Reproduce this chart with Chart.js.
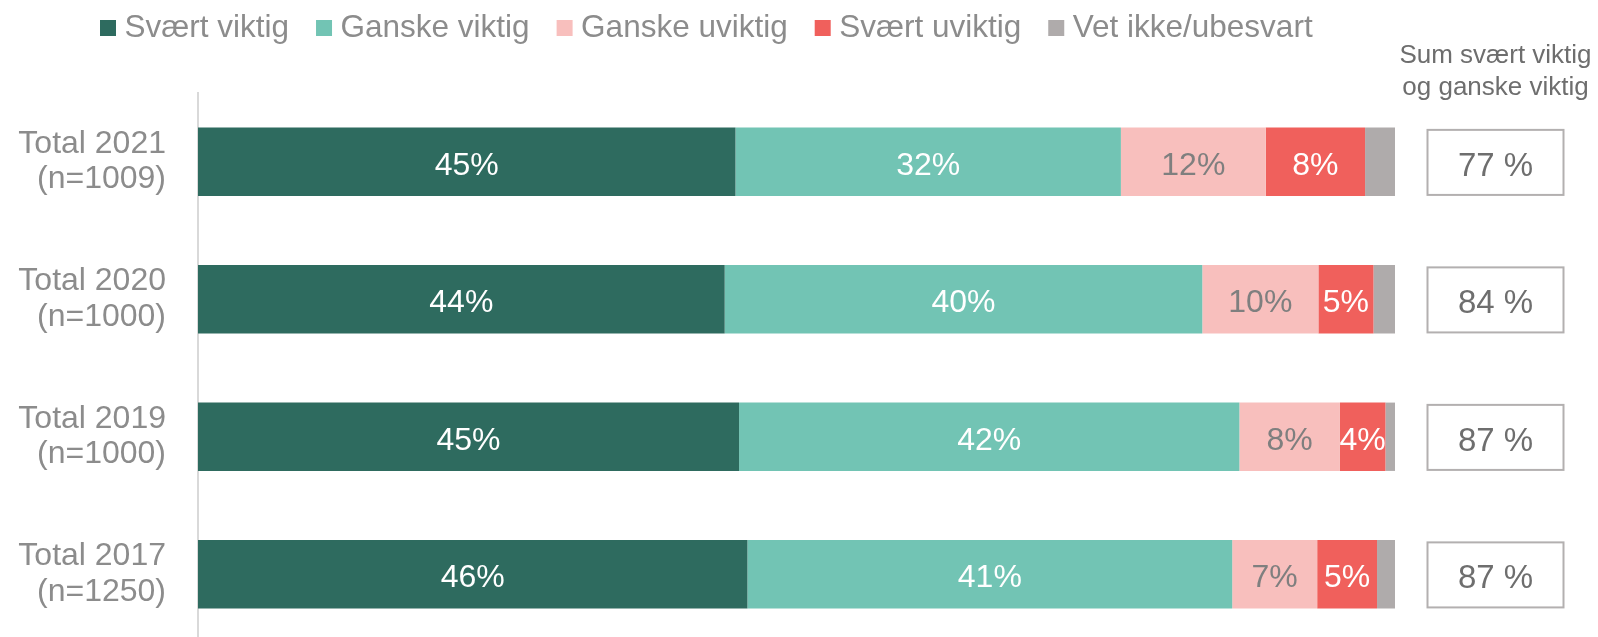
<!DOCTYPE html>
<html>
<head>
<meta charset="utf-8">
<script src="https://cdn.jsdelivr.net/npm/chart.js@4/dist/chart.umd.min.js"></script>
<style>
html,body{margin:0;padding:0;background:#fff;overflow:hidden;}
#wrap{width:1598px;height:643px;}
</style>
</head>
<body>
<div id="wrap"><canvas id="c" width="1598" height="643"></canvas></div>
<script>
// ---- data ----
const categories = [
  ['Total 2021', '(n=1009)'],
  ['Total 2020', '(n=1000)'],
  ['Total 2019', '(n=1000)'],
  ['Total 2017', '(n=1250)']
];
const seriesNames = ['Svært viktig', 'Ganske viktig', 'Ganske uviktig', 'Svært uviktig', 'Vet ikke/ubesvart'];
const svaertViktig  = [44.9, 44.0, 45.2, 45.9];
const ganskeViktig  = [32.2, 39.9, 41.8, 40.5];
const ganskeUviktig = [12.1, 9.7, 8.4, 7.1];
const svaertUviktig = [8.3, 4.6, 3.8, 5.0];
const vetIkke       = [2.5, 1.8, 0.8, 1.5];
const sumViktig     = [77, 84, 87, 87];
const sumHeader     = ['Sum svært viktig', 'og ganske viktig'];

// ---- styles ----
const FONT = "'Liberation Sans', Arial, sans-serif";
const colors = ['#2e6b5f', '#72c4b4', '#f8bfbd', '#f0605c', '#afabab'];
const labelColors = ['#ffffff', '#ffffff', '#7f7f7f', '#ffffff', null];
const seriesValues = [svaertViktig, ganskeViktig, ganskeUviktig, svaertUviktig, vetIkke];

const barLabels = {
  id: 'barLabels',
  afterDatasetsDraw(chart) {
    const ctx = chart.ctx;
    ctx.save();
    ctx.font = '32px ' + FONT;
    ctx.textAlign = 'center';
    ctx.textBaseline = 'alphabetic';
    chart.data.datasets.forEach((ds, i) => {
      if (!labelColors[i]) return;
      const meta = chart.getDatasetMeta(i);
      ctx.fillStyle = labelColors[i];
      meta.data.forEach((bar, j) => {
        const v = ds.data[j];
        const x = (bar.x + bar.base) / 2;
        ctx.fillText(Math.round(v) + '%', x, bar.y + 13);
      });
    });
    ctx.restore();
  }
};

const sumBoxes = {
  id: 'sumBoxes',
  afterDraw(chart) {
    const ctx = chart.ctx;
    const area = chart.chartArea;
    const meta = chart.getDatasetMeta(0);
    const boxX = area.right + 32.5;
    const boxW = 136;
    const cx = boxX + boxW / 2;
    ctx.save();
    // header
    ctx.font = '26px ' + FONT;
    ctx.fillStyle = '#6e6e6e';
    ctx.textAlign = 'center';
    ctx.textBaseline = 'alphabetic';
    ctx.fillText(sumHeader[0], cx, 63);
    ctx.fillText(sumHeader[1], cx, 95);
    // boxes
    meta.data.forEach((bar, j) => {
      const top = bar.y - bar.height / 2;
      ctx.strokeStyle = '#b3b0b0';
      ctx.lineWidth = 2;
      ctx.strokeRect(boxX, top + 2.3, boxW, bar.height - 3.3);
      ctx.font = '33px ' + FONT;
      ctx.fillStyle = '#6e6e6e';
      ctx.fillText(sumViktig[j] + ' %', cx, bar.y + 14);
    });
    ctx.restore();
  }
};

const customLegend = {
  id: 'customLegend',
  afterDraw(chart) {
    const ctx = chart.ctx;
    ctx.save();
    ctx.font = '31.5px ' + FONT;
    ctx.textBaseline = 'alphabetic';
    ctx.textAlign = 'left';
    let x = 100;
    chart.data.datasets.forEach((ds) => {
      ctx.fillStyle = ds.backgroundColor;
      ctx.fillRect(x, 20, 16, 16);
      ctx.fillStyle = '#8c8c8c';
      const tx = x + 24.5;
      ctx.fillText(ds.label, tx, 37);
      x = tx + ctx.measureText(ds.label).width + 27;
    });
    ctx.restore();
  }
};

new Chart(document.getElementById('c'), {
  type: 'bar',
  data: {
    labels: categories,
    datasets: seriesNames.map((name, i) => ({
      label: name,
      data: seriesValues[i],
      backgroundColor: colors[i],
      borderWidth: 0,
      categoryPercentage: 1,
      barPercentage: 0.497
    }))
  },
  options: {
    indexAxis: 'y',
    responsive: false,
    animation: false,
    layout: { padding: { top: 93, right: 203, bottom: 0, left: 0 } },
    plugins: {
      legend: { display: false },
      tooltip: { enabled: false }
    },
    scales: {
      x: { stacked: true, min: 0, max: 100, display: false },
      y: {
        stacked: true,
        grid: { display: false, drawTicks: false, tickLength: 0 },
        border: { display: true, color: '#d9d9d9', width: 2 },
        ticks: {
          padding: 32,
          color: '#8c8c8c',
          font: { family: FONT, size: 32, lineHeight: 1.11 }
        },
        afterFit(scale) {
          scale.width = 198;
          scale.paddingTop = 0;
          scale.paddingBottom = 0;
        }
      }
    }
  },
  plugins: [barLabels, sumBoxes, customLegend]
});
</script>
</body>
</html>
